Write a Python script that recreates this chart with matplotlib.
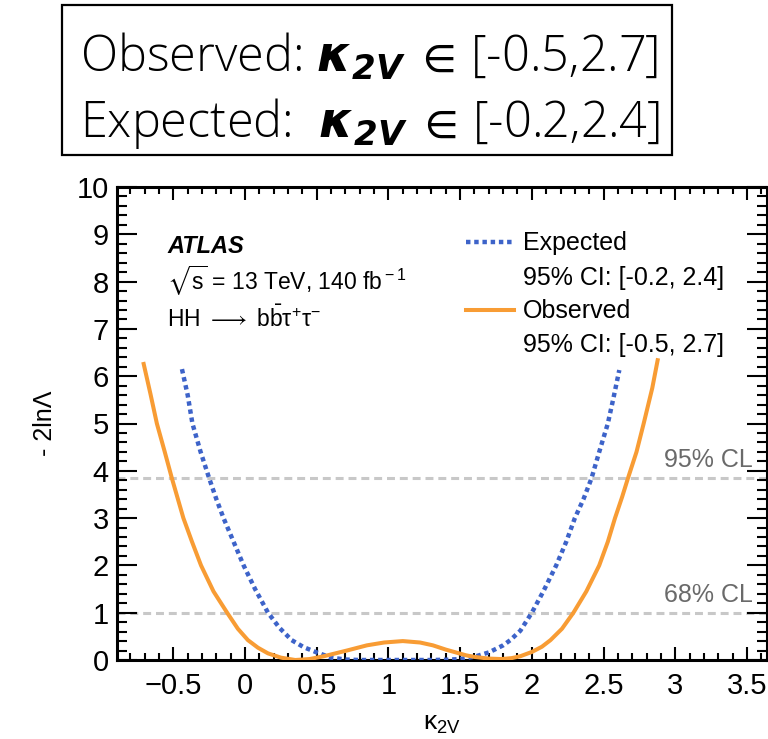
import matplotlib
matplotlib.use("Agg")
import matplotlib.pyplot as plt
from matplotlib.patches import Rectangle
from matplotlib.ticker import MultipleLocator, FuncFormatter
from matplotlib import font_manager

plt.rcParams['mathtext.fontset'] = 'custom'
plt.rcParams['mathtext.rm'] = 'Liberation Sans'
plt.rcParams['mathtext.it'] = 'Liberation Sans:italic'
plt.rcParams['mathtext.bf'] = 'Liberation Sans:bold'
plt.rcParams['mathtext.fallback'] = 'stixsans'
try:
    plt.rcParams['mathtext.bfit'] = 'DejaVu Sans:italic:bold'
except KeyError:
    pass
plt.rcParams['font.family'] = ['Liberation Sans', 'DejaVu Sans']

# ---------------- data ----------------
obs_x = [-0.71, -0.66, -0.615, -0.56, -0.51, -0.43, -0.37, -0.307, -0.22, -0.125,
         -0.05, 0.02, 0.09, 0.16, 0.25, 0.35, 0.45, 0.55, 0.63, 0.71, 0.85, 0.97,
         1.10, 1.22, 1.31, 1.40, 1.47, 1.54, 1.60, 1.70, 1.79, 1.86, 1.92, 2.00,
         2.07, 2.13, 2.21, 2.29, 2.38, 2.47, 2.53, 2.58, 2.63, 2.67, 2.73, 2.78,
         2.84, 2.88]
obs_y = [6.30, 5.63, 5.00, 4.40, 3.84, 3.00, 2.50, 2.00, 1.45, 1.00,
         0.66, 0.42, 0.26, 0.14, 0.05, 0.00, 0.02, 0.08, 0.14, 0.20, 0.31, 0.37,
         0.40, 0.37, 0.31, 0.22, 0.16, 0.10, 0.065, 0.03, 0.02, 0.04, 0.08, 0.17,
         0.28, 0.42, 0.66, 1.00, 1.45, 2.00, 2.50, 3.00, 3.45, 3.84, 4.40, 5.00,
         5.75, 6.38]

exp_x = [-0.44, -0.40, -0.367, -0.31, -0.25, -0.20, -0.15, -0.08, -0.01, 0.07,
         0.16, 0.24, 0.325, 0.41, 0.50, 0.60, 0.70, 0.80, 0.90, 1.00, 1.10, 1.20,
         1.30, 1.40, 1.50, 1.60, 1.70, 1.80, 1.85, 1.92, 2.00, 2.08, 2.17, 2.24,
         2.30, 2.36, 2.416, 2.47, 2.53, 2.57, 2.61]
exp_y = [6.15, 5.60, 5.00, 4.40, 3.84, 3.40, 3.00, 2.50, 2.00, 1.50,
         1.00, 0.68, 0.42, 0.27, 0.16, 0.05, 0.01, 0.00, 0.00, 0.00, 0.00, 0.00,
         0.00, 0.005, 0.02, 0.07, 0.16, 0.31, 0.42, 0.62, 1.00, 1.45, 2.00, 2.50,
         3.00, 3.40, 3.84, 4.40, 5.00, 5.55, 6.13]

cl_levels = [1.0, 3.84]
cl_labels = ["68% CL", "95% CL"]

obs_ci = "95% CI: [-0.5, 2.7]"
exp_ci = "95% CI: [-0.2, 2.4]"
box_obs = ("Observed: ", "[-0.5,2.7]")
box_exp = ("Expected:  ", "[-0.2,2.4]")

BLUE = '#3d63c9'
ORANGE = '#f89c34'

# pick a light (300) weight font for the top box if one is installed
def _w(f):
    w = f.weight
    try:
        return int(w)
    except (TypeError, ValueError):
        return {'light': 300, 'extra light': 200, 'ultralight': 200,
                'thin': 100, 'normal': 400, 'regular': 400}.get(str(w).lower(), 400)

light_family = None
for cand in ['Noto Sans CJK SC', 'Open Sans', 'Roboto', 'Lato', 'Inter', 'Noto Sans']:
    for f in font_manager.fontManager.ttflist:
        if f.name == cand and _w(f) == 300 and f.style == 'normal':
            light_family = cand
            break
    if light_family:
        break
if light_family is None:
    light_family = 'Noto Sans CJK SC'

W, H = 768, 739
fig = plt.figure(figsize=(W / 100, H / 100), dpi=100)

def fx(px):
    return px / W

def fy(py):
    return 1 - py / H

ax = fig.add_axes([fx(117), fy(660), fx(767) - fx(117), fy(187) - fy(660)])
ax.set_xlim(-0.893, 3.64)
ax.set_ylim(0, 10)

# CL lines
for lev, lab in zip(cl_levels, cl_labels):
    ax.axhline(lev, color='#c8c8c8', lw=2.2, dashes=(2.6, 1.6), zorder=1)
    ax.text(3.54, lev + 0.13, lab, color='#6a6a6a', fontsize=18,
            ha='right', va='bottom')

ax.plot(exp_x, exp_y, color=BLUE, lw=3.2, linestyle=(0, (1.0, 0.85)),
        dash_capstyle='butt', zorder=3)
ax.plot(obs_x, obs_y, color=ORANGE, lw=2.9, solid_capstyle='butt', zorder=4)

# ticks
def fmt(v, pos):
    return ('%g' % round(v, 3)).replace('-', '\u2212')

ax.xaxis.set_major_locator(MultipleLocator(0.5))
ax.xaxis.set_minor_locator(MultipleLocator(0.1))
ax.yaxis.set_major_locator(MultipleLocator(1))
ax.yaxis.set_minor_locator(MultipleLocator(0.2))
ax.xaxis.set_major_formatter(FuncFormatter(fmt))
ax.yaxis.set_major_formatter(FuncFormatter(fmt))
ax.tick_params(axis='both', which='both', direction='in', top=True, right=True,
               width=1.5, labelsize=21, colors='black')
ax.tick_params(axis='x', which='major', length=9.5, pad=9)
ax.tick_params(axis='x', which='minor', length=5)
ax.tick_params(axis='y', which='major', length=14.5, pad=6)
ax.tick_params(axis='y', which='minor', length=7.5)
for s in ax.spines.values():
    s.set_linewidth(2.2)

ax.set_ylabel('- 2ln\u039b', fontsize=18, labelpad=14)
ax.set_xlabel('\u03ba$_{\\rm 2V}$', fontsize=19, labelpad=8)

# ATLAS labels
fig.text(fx(167), fy(253), 'ATLAS', fontsize=17, fontweight='bold', style='italic',
         ha='left', va='baseline')
fig.text(fx(167), fy(290), r'$\sqrt{\rm s}$ = 13 TeV, 140 fb$^{\rm -1}$', fontsize=16.5,
         ha='left', va='baseline')
fig.text(fx(167), fy(327), r'HH $\longrightarrow$ b$\bar{\rm b}$' + '\u03c4$^{+}$\u03c4$^{-}$',
         fontsize=16.5, ha='left', va='baseline')

# legend (manual)
fig.add_artist(plt.Line2D([fx(466), fx(514)], [fy(242), fy(242)], color=BLUE, lw=3.2,
                          linestyle=(0, (1.0, 0.85)), dash_capstyle='butt'))
fig.add_artist(plt.Line2D([fx(466), fx(514)], [fy(310), fy(310)], color=ORANGE, lw=2.9))
fig.text(fx(523), fy(250), 'Expected', fontsize=18, ha='left', va='baseline')
fig.text(fx(523), fy(285), exp_ci, fontsize=18, ha='left', va='baseline')
fig.text(fx(523), fy(318), 'Observed', fontsize=18, ha='left', va='baseline')
fig.text(fx(523), fy(352), obs_ci, fontsize=18, ha='left', va='baseline')

# top box
fig.add_artist(Rectangle((fx(62), fy(155)), fx(672) - fx(62), fy(5) - fy(155),
                         transform=fig.transFigure, fill=False, edgecolor='black', lw=1.6))
box_font = [light_family, 'Noto Sans CJK SC', 'DejaVu Sans']
kap = r'$\mathbfit{\kappa_{2V}}\;\in\,$'
fig.text(fx(80), fy(72), box_obs[0] + kap + box_obs[1], fontsize=35,
         family=box_font, fontweight='light', ha='left', va='baseline')
fig.text(fx(80), fy(137), box_exp[0] + kap + box_exp[1], fontsize=35,
         family=box_font, fontweight='light', ha='left', va='baseline')

fig.savefig('out.png', dpi=100)
